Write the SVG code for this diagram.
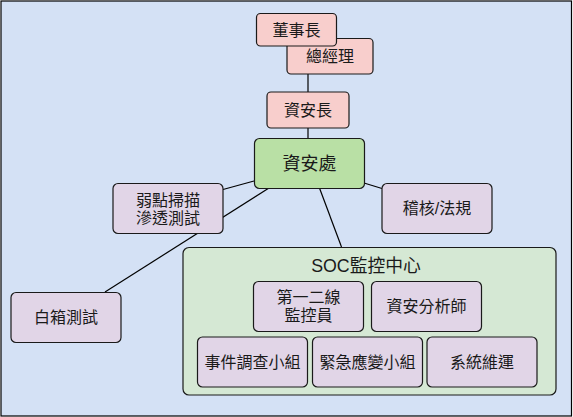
<svg xmlns="http://www.w3.org/2000/svg" width="573" height="417" viewBox="0 0 573 417">
<style>
.t{font-family:"Liberation Sans","Noto Sans CJK TC",sans-serif;font-size:16px;fill:#1a1a1a;text-anchor:middle;dominant-baseline:central}
.red{fill:#f8cecc;stroke:#1a1a1a;stroke-width:1.2}
.pur{fill:#e1d5e7;stroke:#1a1a1a;stroke-width:1.2}
.grn{fill:#b9e0a5;stroke:#1a1a1a;stroke-width:1.2}
.lg{fill:#d5e8d4;stroke:#1a1a1a;stroke-width:1.2}
.c{stroke:#000;stroke-width:1.2;fill:none}
</style>
<rect x="1" y="1" width="570.5" height="415" fill="#d4e1f5" stroke="#000" stroke-width="1.2"/>
<g id="connectors">
<line class="c" x1="308" y1="74" x2="308" y2="92"/>
<line class="c" x1="308" y1="128" x2="308" y2="138"/>
<line class="c" x1="254" y1="181" x2="223" y2="189.5"/>
<line class="c" x1="269" y1="188" x2="105" y2="292"/>
<line class="c" x1="319.5" y1="188" x2="341.5" y2="247"/>
<line class="c" x1="364" y1="183" x2="382" y2="188.5"/>
</g>
<g id="soc">
<rect class="lg" x="183" y="247.5" width="373" height="147.5" rx="6"/>
<text class="t" x="366" y="265.5" style="font-size:17.8px">SOC監控中心</text>
</g>
<g id="zongjingli"><rect class="red" x="287" y="38.5" width="86" height="35.5" rx="4"/><text class="t" x="330" y="56">總經理</text></g>
<g id="dongshizhang"><rect class="red" x="256.5" y="13.5" width="80" height="32.5" rx="4"/><text class="t" x="296.5" y="30">董事長</text></g>
<g id="zianzhang"><rect class="red" x="267" y="92" width="82" height="36" rx="4"/><text class="t" x="308" y="110">資安長</text></g>
<g id="ziancu"><rect class="grn" x="254.5" y="138.5" width="110" height="50" rx="5"/><text class="t" x="309.5" y="163.5" style="font-size:18px">資安處</text></g>
<g id="ruodian"><rect class="pur" x="113" y="183.5" width="110" height="50" rx="5"/><text class="t" x="168" y="200">弱點掃描</text><text class="t" x="168" y="218">滲透測試</text></g>
<g id="jihe"><rect class="pur" x="382" y="183.5" width="110" height="50" rx="5"/><text class="t" x="437" y="208.5">稽核/法規</text></g>
<g id="baixiang"><rect class="pur" x="11" y="292.5" width="110" height="50" rx="5"/><text class="t" x="66" y="317">白箱測試</text></g>
<g id="jiankong"><rect class="pur" x="253.5" y="281.5" width="110" height="50" rx="5"/><text class="t" x="308.5" y="297">第一二線</text><text class="t" x="308.5" y="315">監控員</text></g>
<g id="fenxi"><rect class="pur" x="371.5" y="281.5" width="110" height="50" rx="5"/><text class="t" x="426.5" y="306.5">資安分析師</text></g>
<g id="shijian"><rect class="pur" x="197.5" y="337" width="110" height="50" rx="5"/><text class="t" x="252.5" y="362">事件調查小組</text></g>
<g id="jinji"><rect class="pur" x="312.5" y="337" width="110" height="50" rx="5"/><text class="t" x="367.5" y="362">緊急應變小組</text></g>
<g id="xitong"><rect class="pur" x="427" y="337" width="110" height="50" rx="5"/><text class="t" x="482" y="362">系統維運</text></g>
</svg>
